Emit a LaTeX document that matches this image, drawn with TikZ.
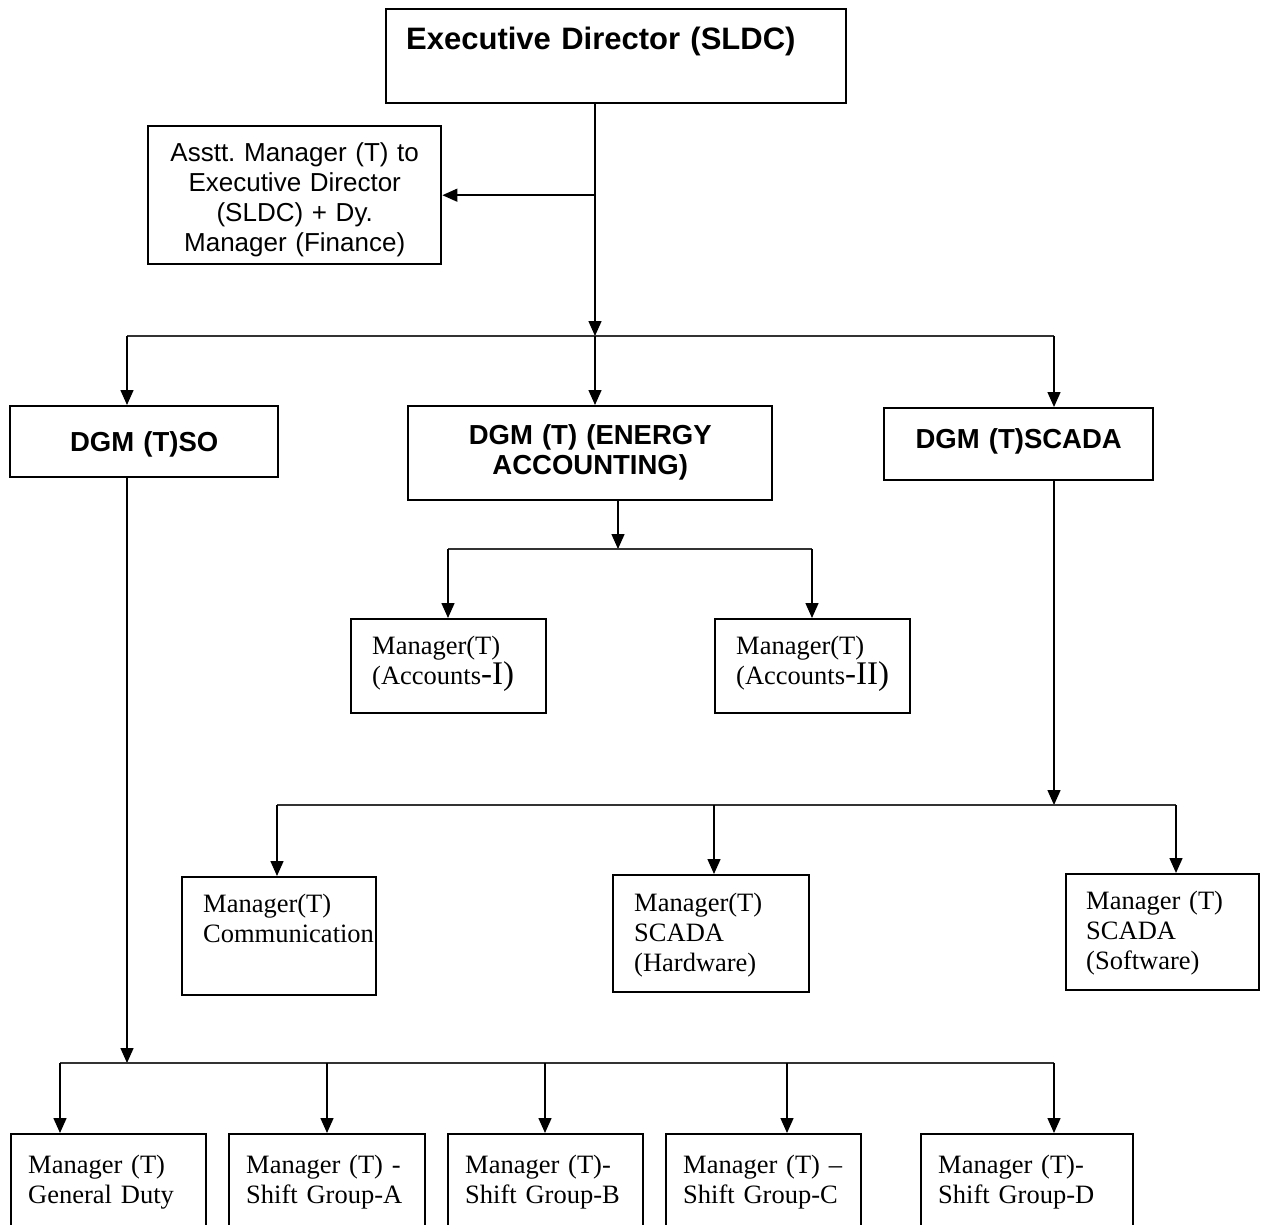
\documentclass[tikz,border=0pt]{standalone}
\usepackage{fontspec}
\setmainfont{Liberation Serif}
\newfontfamily\headfont{Liberation Sans}
\usetikzlibrary{arrows.meta}
\frenchspacing

\tikzset{
    box/.style={draw, line width=2.4pt, anchor=north west, inner ysep=0pt},
    head/.style={font=\headfont\bfseries\fontsize{27.5}{30}\selectfont, align=center, inner xsep=4pt},
    plain/.style={font=\fontsize{26.5}{30}\selectfont, align=left},
    arr/.style={-{Triangle[length=15pt,width=13pt]}, line width=1.5pt},
    bus/.style={line width=1.1pt, black!80}
}

\begin{document}
\begin{tikzpicture}[x=1pt,y=-1pt]
        \useasboundingbox (0,0) rectangle (1263,1225);

        % Top of the chart
        \node[box, font=\headfont\bfseries\fontsize{31}{34}\selectfont, align=left, inner xsep=20pt,
              text width=420pt, text height=40pt, text depth=54pt] (ed) at (385,8) {Executive Director (SLDC)};
        \node[box, font=\headfont\fontsize{26}{30}\selectfont, align=center, inner xsep=4pt,
              text width=285pt, text height=35pt, text depth=103pt] (asst) at (147,125)
              {Asstt. Manager (T) to\\ Executive Director\\ (SLDC) + Dy.\\ Manager (Finance)};

        % The three DGM boxes
        \node[box, head, text width=260pt, text height=45pt, text depth=26pt] (dgmso) at (9,405) {DGM (T)SO};
        \node[box, head, text width=356pt, text height=38pt, text depth=56pt] (dgmea) at (407,405) {DGM (T) (ENERGY\\ ACCOUNTING)};
        \node[box, head, text width=261pt, text height=40pt, text depth=32pt] (dgmscada) at (883,407) {DGM (T)SCADA};

        % Energy accounting managers
        \node[box, plain, inner xsep=21pt, text width=153pt, text height=35pt, text depth=59pt] (acc1) at (350,618)
              {Manager(T)\\ (Accounts{\fontsize{33}{30}\selectfont -I)}};
        \node[box, plain, inner xsep=21pt, text width=153pt, text height=35pt, text depth=59pt] (acc2) at (714,618)
              {Manager(T)\\ (Accounts{\fontsize{33}{30}\selectfont -II)}};

        % SCADA managers
        \node[box, plain, inner xsep=21pt, text width=152pt, text height=35pt, text depth=83pt] (comm) at (181,876)
              {Manager(T)\\ Communication};
        \node[box, plain, inner xsep=21pt, text width=154pt, text height=36pt, text depth=81pt] (hw) at (612,874)
              {Manager(T)\\ SCADA\\ (Hardware)};
        \node[box, plain, inner xsep=20pt, text width=153pt, text height=35pt, text depth=81pt] (sw) at (1065,873)
              {Manager (T)\\ SCADA\\ (Software)};

        % System operation managers (cut off at the bottom)
        \node[box, plain, inner xsep=17pt, text width=161pt, text height=39pt, text depth=81pt] (gd) at (10,1133)
              {Manager (T)\\ General Duty};
        \node[box, plain, inner xsep=17pt, text width=162pt, text height=39pt, text depth=81pt] (sa) at (228,1133)
              {Manager (T) -\\ Shift Group-A};
        \node[box, plain, inner xsep=17pt, text width=161pt, text height=39pt, text depth=81pt] (sb) at (447,1133)
              {Manager (T)-\\ Shift Group-B};
        \node[box, plain, inner xsep=17pt, text width=161pt, text height=39pt, text depth=81pt] (sc) at (665,1133)
              {Manager (T) --\\ Shift Group-C};
        \node[box, plain, inner xsep=17pt, text width=178pt, text height=39pt, text depth=81pt] (sd) at (920,1133)
              {Manager (T)-\\ Shift Group-D};

        % Executive Director to the DGMs
        \coordinate (bus1) at (595,336);
        \draw[arr] (ed.south -| bus1) -- (bus1);
        \draw[arr] (asst.east -| bus1) -- (asst.east);
        \draw[bus] (127,0 |- bus1) -- (1054,0 |- bus1);
        \foreach \x/\n in {127/dgmso, 595/dgmea, 1054/dgmscada}
            \draw[arr] (\x,0 |- bus1) -- (\x,0 |- \n.north);

        % Energy accounting branch
        \coordinate (bus2) at (618,549);
        \draw[arr] (dgmea.south -| bus2) -- (bus2);
        \draw[bus] (448,0 |- bus2) -- (812,0 |- bus2);
        \foreach \x/\n in {448/acc1, 812/acc2}
            \draw[arr] (\x,0 |- bus2) -- (\x,0 |- \n.north);

        % SCADA branch
        \coordinate (bus3) at (1054,805);
        \draw[arr] (dgmscada.south -| bus3) -- (bus3);
        \draw[bus] (277,0 |- bus3) -- (1176,0 |- bus3);
        \foreach \x/\n in {277/comm, 714/hw, 1176/sw}
            \draw[arr] (\x,0 |- bus3) -- (\x,0 |- \n.north);

        % System operation branch
        \coordinate (bus4) at (127,1063);
        \draw[arr] (dgmso.south -| bus4) -- (bus4);
        \draw[bus] (60,0 |- bus4) -- (1054,0 |- bus4);
        \foreach \x/\n in {60/gd, 327/sa, 545/sb, 787/sc, 1054/sd}
            \draw[arr] (\x,0 |- bus4) -- (\x,0 |- \n.north);

\end{tikzpicture}
\end{document}
